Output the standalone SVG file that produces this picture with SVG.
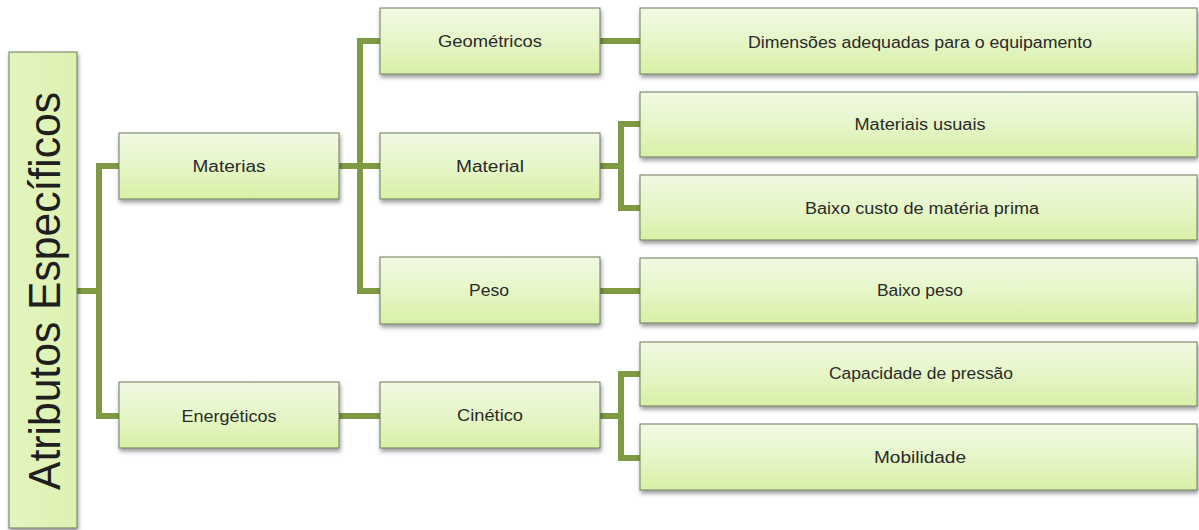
<svg xmlns="http://www.w3.org/2000/svg" width="1199" height="530" viewBox="0 0 1199 530">
  <defs>
    <linearGradient id="gBox" x1="0" y1="0" x2="0" y2="1">
      <stop offset="0" stop-color="#f1f9e3"/>
      <stop offset="0.5" stop-color="#e6f6c8"/>
      <stop offset="1" stop-color="#d8f0a6"/>
    </linearGradient>
    <linearGradient id="gRoot" x1="0" y1="0" x2="1" y2="0">
      <stop offset="0" stop-color="#e3f5c0"/>
      <stop offset="1" stop-color="#dcf2b0"/>
    </linearGradient>
    <filter id="shadow" x="-5%" y="-10%" width="115%" height="130%">
      <feDropShadow dx="1" dy="3" stdDeviation="2" flood-color="#000" flood-opacity="0.4"/>
    </filter>
    <style>
      .box { fill: url(#gBox); stroke: #6d7a5c; stroke-width: 1; filter: url(#shadow); }
      .root { fill: url(#gRoot); stroke: #6d7a5c; stroke-width: 1; filter: url(#shadow); }
      .lbl { font-family: "Liberation Sans", Arial, sans-serif; font-size: 16px; fill: #2a2a2a; text-anchor: middle; }
      .title { font-family: "Liberation Sans", Arial, sans-serif; font-size: 45px; fill: #1e1e1e; text-anchor: middle; }
      .conn { fill: none; stroke: #7e9a42; stroke-width: 6; stroke-linejoin: miter; }
    </style>
  </defs>

  <g id="connectors">
    <path class="conn" d="M77,291 H99"/>
    <path class="conn" d="M119,166 H99 V416 H119"/>
    <path class="conn" d="M339,166 H380"/>
    <path class="conn" d="M380,41 H360 V291 H380"/>
    <path class="conn" d="M339,416 H380"/>
    <path class="conn" d="M600,41 H640"/>
    <path class="conn" d="M600,166 H621"/>
    <path class="conn" d="M640,124 H621 V208 H640"/>
    <path class="conn" d="M600,291 H640"/>
    <path class="conn" d="M600,416 H621"/>
    <path class="conn" d="M640,374 H621 V458 H640"/>
  </g>

  <g id="node-root">
    <rect class="root" x="9" y="52" width="68" height="476"/>
    <text class="title" transform="translate(60,291) rotate(-90)" x="0" y="0" textLength="398" lengthAdjust="spacingAndGlyphs">Atributos Específicos</text>
  </g>

  <g id="node-materias">
    <rect class="box" x="119" y="133" width="220" height="66"/>
    <text class="lbl" x="229" y="172" textLength="73" lengthAdjust="spacingAndGlyphs">Materias</text>
  </g>
  <g id="node-energeticos">
    <rect class="box" x="119" y="382" width="220" height="66"/>
    <text class="lbl" x="229" y="422" textLength="95" lengthAdjust="spacingAndGlyphs">Energéticos</text>
  </g>

  <g id="node-geometricos">
    <rect class="box" x="380" y="8" width="220" height="66"/>
    <text class="lbl" x="490" y="47" textLength="104" lengthAdjust="spacingAndGlyphs">Geométricos</text>
  </g>
  <g id="node-material">
    <rect class="box" x="380" y="133" width="220" height="66"/>
    <text class="lbl" x="490" y="172" textLength="68" lengthAdjust="spacingAndGlyphs">Material</text>
  </g>
  <g id="node-peso">
    <rect class="box" x="380" y="257" width="220" height="67"/>
    <text class="lbl" x="489" y="296" textLength="40" lengthAdjust="spacingAndGlyphs">Peso</text>
  </g>
  <g id="node-cinetico">
    <rect class="box" x="380" y="382" width="220" height="66"/>
    <text class="lbl" x="490" y="421" textLength="66" lengthAdjust="spacingAndGlyphs">Cinético</text>
  </g>

  <g id="node-dimensoes">
    <rect class="box" x="640" y="8" width="557" height="66"/>
    <text class="lbl" x="920" y="48" textLength="344" lengthAdjust="spacingAndGlyphs">Dimensões adequadas para o equipamento</text>
  </g>
  <g id="node-materiais-usuais">
    <rect class="box" x="640" y="92" width="557" height="65"/>
    <text class="lbl" x="920" y="130" textLength="131" lengthAdjust="spacingAndGlyphs">Materiais usuais</text>
  </g>
  <g id="node-baixo-custo">
    <rect class="box" x="640" y="175" width="557" height="65"/>
    <text class="lbl" x="922" y="214" textLength="234" lengthAdjust="spacingAndGlyphs">Baixo custo de matéria prima</text>
  </g>
  <g id="node-baixo-peso">
    <rect class="box" x="640" y="258" width="557" height="65"/>
    <text class="lbl" x="920" y="296" textLength="86" lengthAdjust="spacingAndGlyphs">Baixo peso</text>
  </g>
  <g id="node-capacidade">
    <rect class="box" x="640" y="342" width="557" height="64"/>
    <text class="lbl" x="921" y="379" textLength="184" lengthAdjust="spacingAndGlyphs">Capacidade de pressão</text>
  </g>
  <g id="node-mobilidade">
    <rect class="box" x="640" y="424" width="557" height="66"/>
    <text class="lbl" x="920" y="463" textLength="92" lengthAdjust="spacingAndGlyphs">Mobilidade</text>
  </g>
</svg>
